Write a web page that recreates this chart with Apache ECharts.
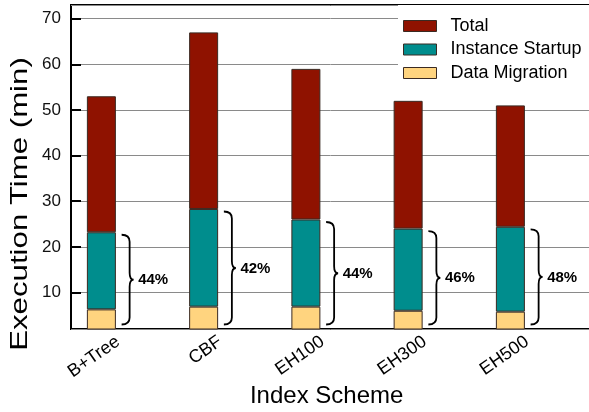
<!DOCTYPE html>
<html>
<head>
<meta charset="utf-8">
<script src="https://cdn.jsdelivr.net/npm/echarts@6/dist/echarts.min.js"></script>
<style>
  html, body { margin: 0; padding: 0; background: #fff; }
  #chart { width: 589px; height: 412px; }
</style>
</head>
<body>
<div id="chart"></div>
<script>
// Index schemes on the x axis
const schemes = ['B+Tree', 'CBF', 'EH100', 'EH300', 'EH500'];
// Execution time in minutes; each bar is drawn from zero
const totalTime = [53, 67, 59, 52, 51];
const startupTime = [23.2, 28.3, 26.0, 24.0, 24.4];
const migrationTime = [6.3, 6.9, 6.9, 6.0, 5.8];
// Value axis range
const yMin = 2;
const yMax = 73;

const FONT = "'Liberation Sans', Arial, Helvetica, sans-serif";
const C_TOTAL = '#8f1200';
const C_STARTUP = '#008d8d';
const C_MIGRATION = '#ffd47f';
const EDGE = '#3a2a22';

// Stacked segments so the three overlapping bars show as one column
const segMigration = migrationTime.slice();
const segStartup = startupTime.map((v, i) => +(v - migrationTime[i]).toFixed(2));
const segTotal = totalTime.map((v, i) => +(v - startupTime[i]).toFixed(2));

const braceData = schemes.map((s, i) => [i, startupTime[i], totalTime[i]]);

const chart = echarts.init(document.getElementById('chart'), null, { renderer: 'canvas' });

const barCommon = {
  type: 'bar',
  xAxisIndex: 1,
  yAxisIndex: 1,
  stack: 'time',
  barWidth: 29,
  barGap: '43%',
  animation: false
};

chart.setOption({
  animation: false,
  textStyle: { fontFamily: FONT },
  grid: [
    // frame + gridlines, running off the right edge
    {
      left: 71, top: 5, bottom: 83, right: -12, show: true,
      borderColor: '#000', borderWidth: 2, containLabel: false, outerBoundsMode: 'none'
    },
    // data area
    { left: 71, top: 5, bottom: 83, width: 511.25, containLabel: false, outerBoundsMode: 'none' }
  ],
  graphic: [
    {
      type: 'text',
      x: 20,
      y: 204,
      rotation: Math.PI / 2,
      scaleX: 1.3,
      silent: true,
      style: {
        text: 'Execution Time (min)',
        font: '24px ' + FONT,
        fill: '#000',
        align: 'center',
        verticalAlign: 'middle'
      }
    }
  ],
  xAxis: [
    { gridIndex: 0, type: 'value', show: false, min: 0, max: 1 },
    {
      gridIndex: 1,
      type: 'category',
      data: schemes,
      boundaryGap: true,
      axisLine: { show: false },
      axisTick: { show: false },
      axisLabel: {
        interval: 0, rotate: 35, margin: 8, padding: [0, 5, 0, 0],
        fontSize: 18, color: '#000', fontFamily: FONT
      },
      name: 'Index Scheme',
      nameLocation: 'middle',
      nameGap: 55,
      nameMoveOverlap: false,
      nameTextStyle: { fontSize: 24, color: '#000', fontFamily: FONT }
    }
  ],
  yAxis: [
    {
      gridIndex: 0,
      type: 'value',
      min: yMin,
      max: yMax,
      splitNumber: 7,
      axisLine: { show: false },
      axisTick: { show: true, inside: true, length: 10, lineStyle: { color: '#000', width: 2 } },
      axisLabel: { showMinLabel: false, showMaxLabel: false, fontSize: 17, color: '#111', margin: 10, fontFamily: FONT },
      splitLine: { show: true, lineStyle: { color: '#8a8a8a', width: 1 } }
    },
    { gridIndex: 1, type: 'value', min: yMin, max: yMax, show: false }
  ],
  legend: {
    data: ['Total', 'Instance Startup', 'Data Migration'],
    orient: 'vertical',
    left: 398,
    top: 5,
    padding: [12, 16, 5, 5],
    backgroundColor: '#fff',
    itemWidth: 33,
    itemHeight: 11,
    itemGap: 5.5,
    icon: 'rect',
    textStyle: { fontSize: 18, color: '#000', lineHeight: 18, padding: [0, 0, 0, 9], fontFamily: FONT },
    itemStyle: { borderColor: EDGE, borderWidth: 1 }
  },
  series: [
    Object.assign({}, barCommon, {
      name: 'Data Migration', data: segMigration,
      itemStyle: { color: C_MIGRATION, borderColor: EDGE, borderWidth: 1 }
    }),
    Object.assign({}, barCommon, {
      name: 'Instance Startup', data: segStartup,
      itemStyle: { color: C_STARTUP, borderColor: EDGE, borderWidth: 1 }
    }),
    Object.assign({}, barCommon, {
      name: 'Total', data: segTotal,
      itemStyle: { color: C_TOTAL, borderColor: EDGE, borderWidth: 1 }
    }),
    // empty slot that leaves room for the braces beside each column
    {
      type: 'bar', name: 'spacer', xAxisIndex: 1, yAxisIndex: 1, stack: 'spacer',
      barWidth: 29, barGap: '43%', data: schemes.map(() => '-'), silent: true
    },
    {
      type: 'custom',
      name: 'share',
      xAxisIndex: 1,
      yAxisIndex: 1,
      data: braceData,
      silent: true,
      z: 5,
      renderItem: function (params, api) {
        const idx = api.value(0);
        const top = api.coord([idx, api.value(1)]);
        const bot = api.coord([idx, yMin]);
        const cx = top[0];
        const xL = cx - 0.5;
        const xs = cx + 7.5;
        const xt = cx + 11.5;
        const yT = top[1] + 2.5;
        const yB = bot[1] - 4.5;
        const yM = (yT + yB) / 2;
        const r = 7;
        const path = [
          'M', xL, yT,
          'Q', xs, yT, xs, yT + r,
          'L', xs, yM - r,
          'Q', xs, yM, xt, yM,
          'Q', xs, yM, xs, yM + r,
          'L', xs, yB - r,
          'Q', xs, yB, xL, yB
        ].join(' ');
        const pct = Math.round(api.value(1) / api.value(2) * 100) + '%';
        return {
          type: 'group',
          children: [
            { type: 'path', shape: { pathData: path }, style: { fill: null, stroke: '#000', lineWidth: 1.8 } },
            {
              type: 'text',
              style: {
                x: cx + 16, y: yM + 0.5, text: pct,
                fill: '#000', font: 'bold 15px ' + FONT,
                verticalAlign: 'middle', align: 'left'
              }
            }
          ]
        };
      }
    }
  ]
});
</script>
</body>
</html>
